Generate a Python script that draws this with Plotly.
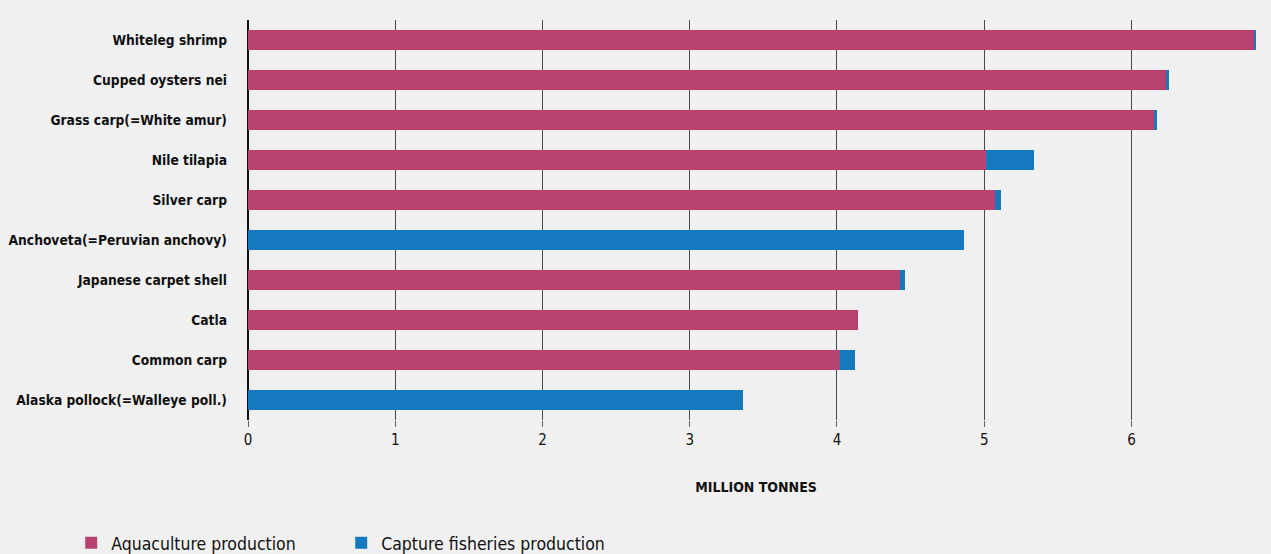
import plotly.graph_objects as go

species = ["Whiteleg shrimp", "Cupped oysters nei", "Grass carp(=White amur)", "Nile tilapia",
           "Silver carp", "Anchoveta(=Peruvian anchovy)", "Japanese carpet shell", "Catla",
           "Common carp", "Alaska pollock(=Walleye poll.)"]
aquaculture = [6.83, 6.24, 6.15, 5.01, 5.07, 0.0, 4.43, 4.14, 4.02, 0.0]
capture = [0.015, 0.013, 0.025, 0.33, 0.045, 4.86, 0.03, 0.0, 0.10, 3.36]
x_ticks = [0, 1, 2, 3, 4, 5, 6]

FONT = "DejaVu Sans Condensed, Liberation Sans Narrow, sans-serif"
BG = "#f0f0f0"

fig = go.Figure()
fig.add_trace(go.Bar(y=species, x=aquaculture, orientation="h", name="Aquaculture production",
                     marker=dict(color="#b8426f", line=dict(width=0)), width=0.5))
fig.add_trace(go.Bar(y=species, x=capture, orientation="h", name="Capture fisheries production",
                     marker=dict(color="#1479bf", line=dict(width=0)), width=0.5))

fig.update_layout(
    barmode="stack",
    width=1271, height=554,
    paper_bgcolor=BG, plot_bgcolor=BG,
    margin=dict(l=248, r=7, t=20, b=134, autoexpand=False),
    font=dict(family=FONT, color="#111111"),
    showlegend=True,
    legend=dict(orientation="h", x=-0.174, xanchor="left", y=-0.352, yanchor="bottom",
                font=dict(size=17.5, family=FONT, color="#111"), entrywidth=225, entrywidthmode="pixels",
                itemwidth=30, traceorder="normal", bgcolor="rgba(0,0,0,0)"),
    bargap=0.5,
)
fig.update_xaxes(
    range=[0, 6.9], tickvals=x_ticks, ticktext=[str(v) for v in x_ticks],
    showgrid=True, gridcolor="#4a4a4a", gridwidth=1,
    zeroline=True, zerolinecolor="#111111", zerolinewidth=2,
    ticks="outside", ticklen=6, tickcolor="#666666", tickwidth=1,
    tickfont=dict(size=15, family=FONT, color="#111"),
    title=dict(text="<b>MILLION TONNES</b>", font=dict(size=14, family=FONT, color="#111"), standoff=34),
    automargin=True,
    showline=False, fixedrange=True,
)
fig.update_yaxes(
    categoryorder="array", categoryarray=species[::-1],
    tickvals=species, ticktext=["<b>" + s + "</b>" for s in species],
    tickfont=dict(size=13.7, family=FONT, color="#111"),
    showgrid=False, showline=False, zeroline=False, ticks="", ticklabelstandoff=20,
    automargin=False, fixedrange=True,
)
fig.write_html("out.html", config={"displayModeBar": False},
               post_script="document.body.style.margin='0';document.body.style.background='#f0f0f0';")
